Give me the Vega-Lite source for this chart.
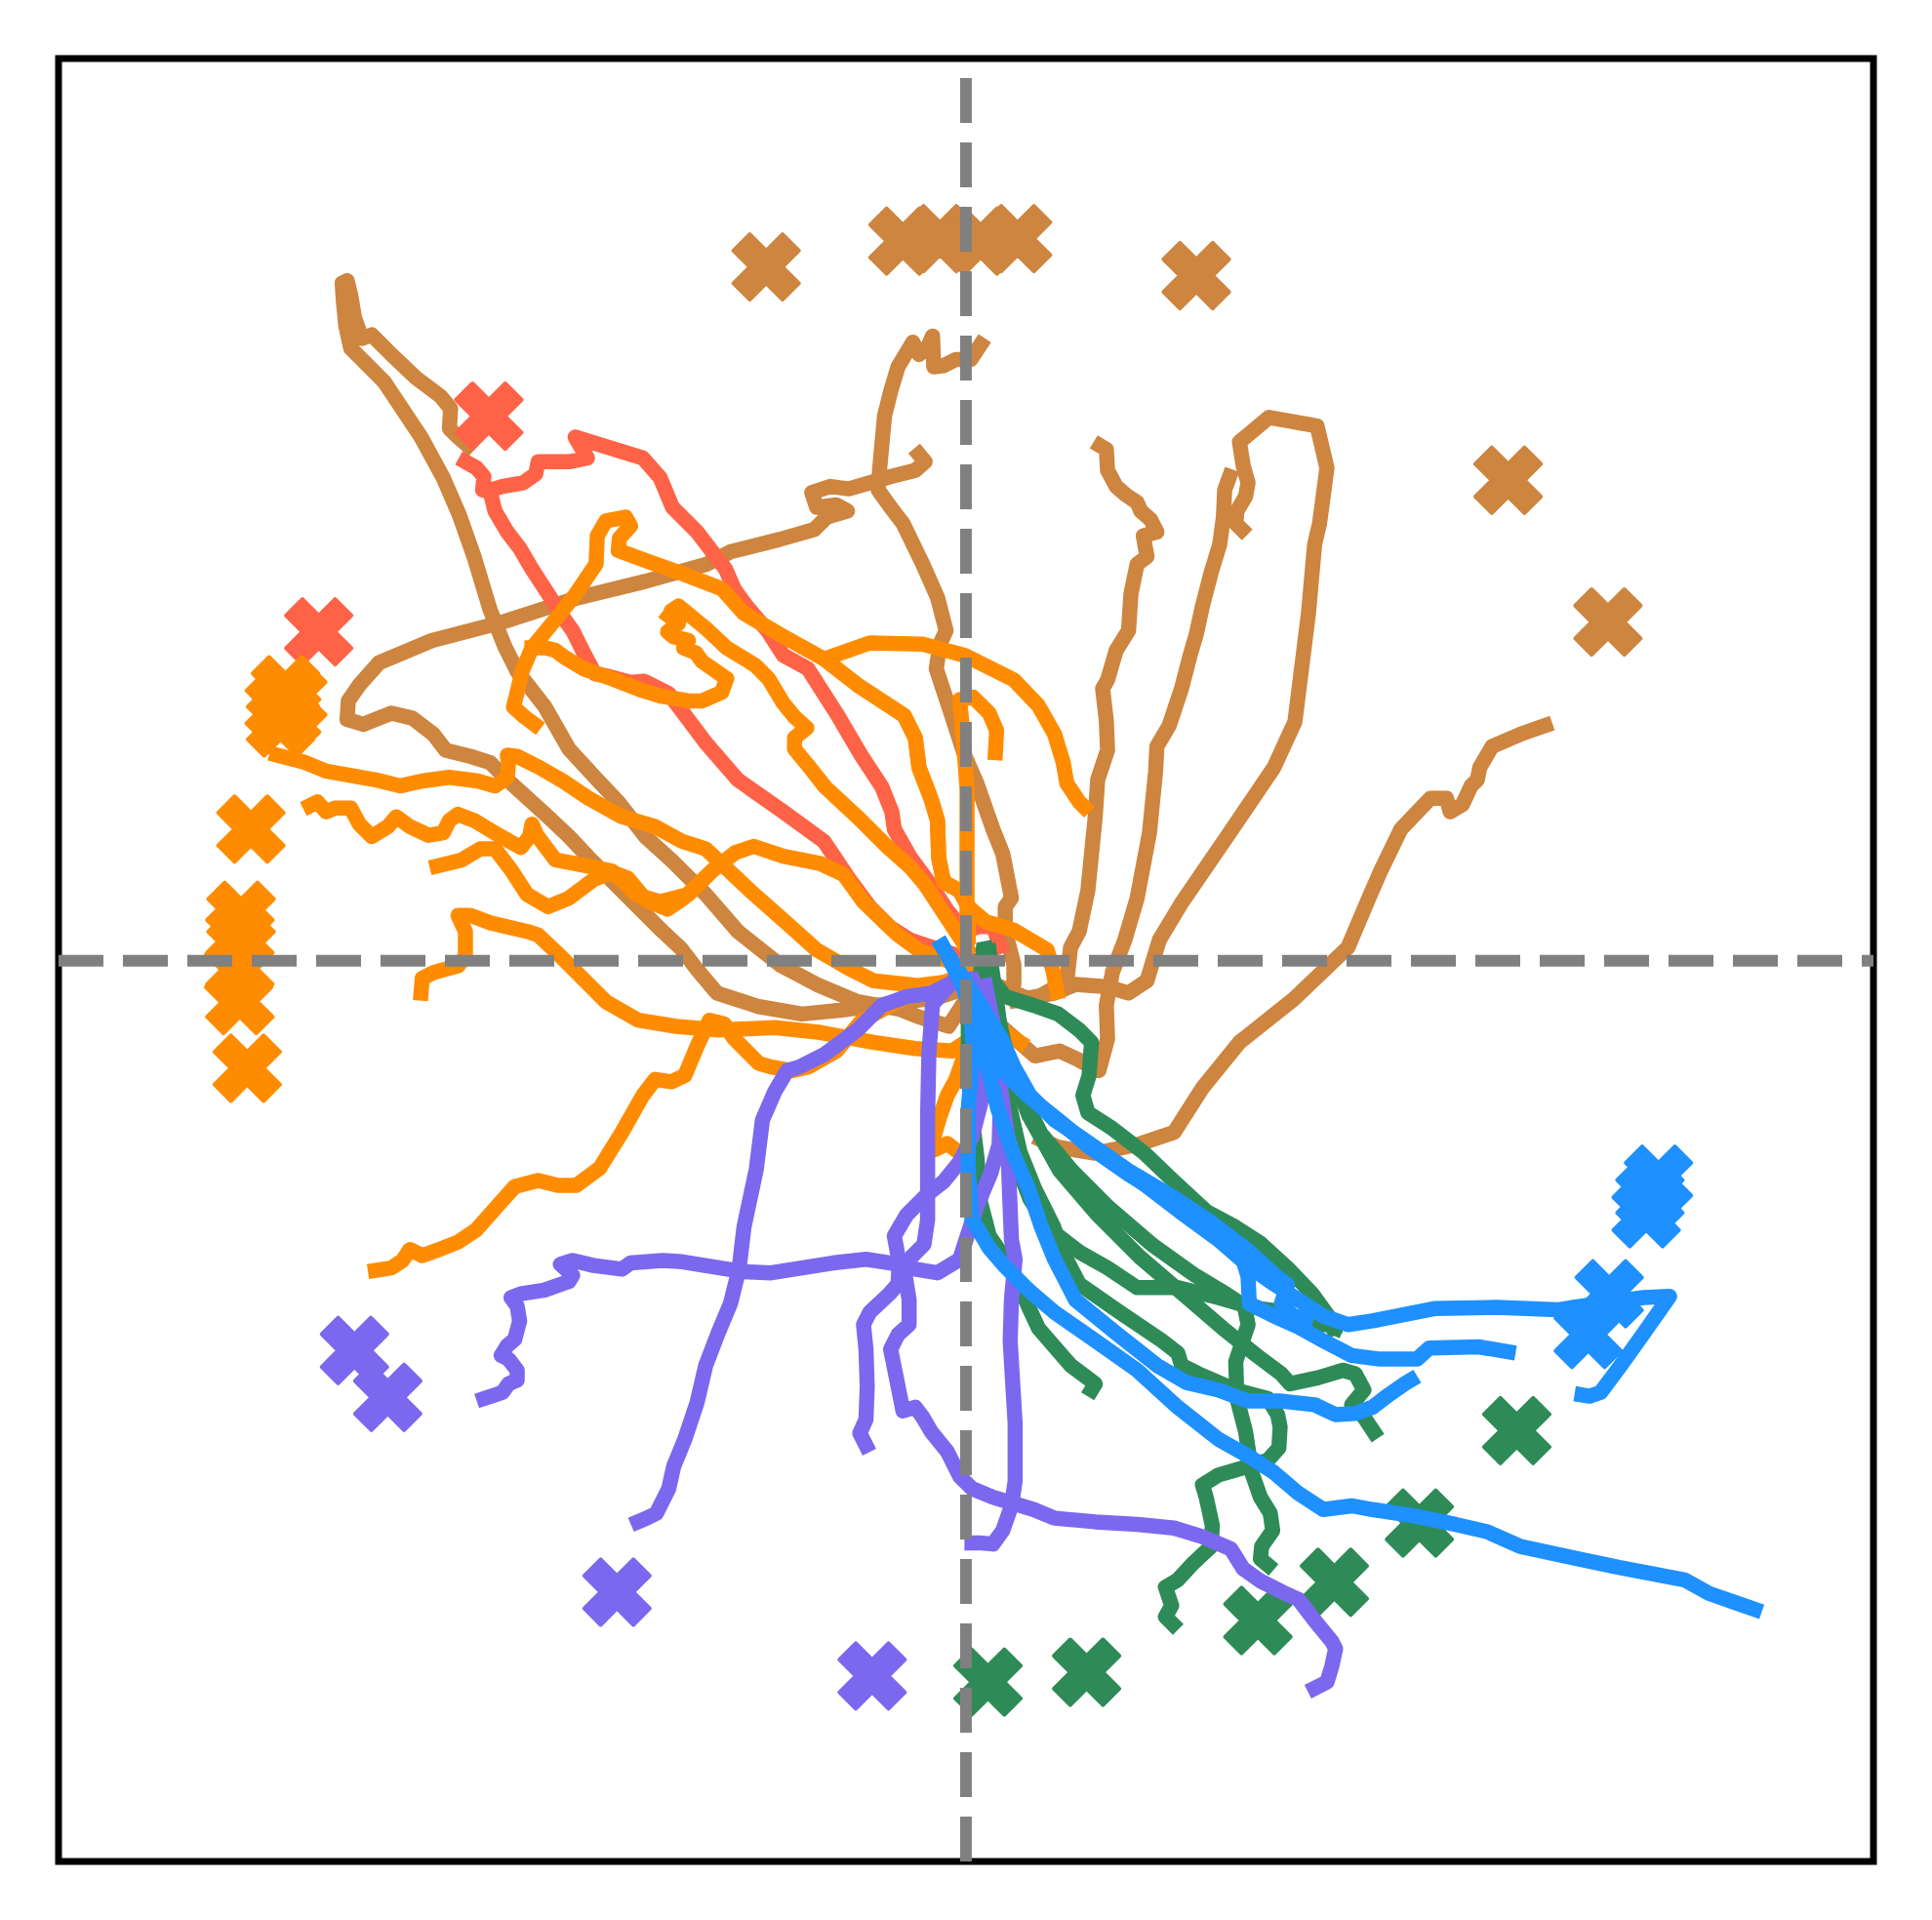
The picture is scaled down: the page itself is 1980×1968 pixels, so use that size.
{
"$schema":"https://vega.github.io/schema/vega-lite/v6.json",
"width":1860,"height":1848,
"autosize":{"type":"none"},
"padding":{"left":60,"top":60,"right":60,"bottom":60},
"background":"white",
"config":{"view":{"stroke":"black","strokeWidth":7}},
"datasets":{
"paths":[
{"i":"b1","g":"A","x":790,"y":802},{"i":"b1","g":"A","x":770,"y":833},{"i":"b1","g":"A","x":745,"y":825},{"i":"b1","g":"A","x":730,"y":819},{"i":"b1","g":"A","x":696,"y":813},{"i":"b1","g":"A","x":663,"y":799},{"i":"b1","g":"A","x":633,"y":783},{"i":"b1","g":"A","x":599,"y":756},{"i":"b1","g":"A","x":573,"y":726},{"i":"b1","g":"A","x":546,"y":699},{"i":"b1","g":"A","x":524,"y":679},{"i":"b1","g":"A","x":502,"y":651},{"i":"b1","g":"A","x":485,"y":633},{"i":"b1","g":"A","x":462,"y":608},{"i":"b1","g":"A","x":442,"y":573},{"i":"b1","g":"A","x":420,"y":545},{"i":"b1","g":"A","x":410,"y":525},{"i":"b1","g":"A","x":398,"y":495},{"i":"b1","g":"A","x":385,"y":452},{"i":"b1","g":"A","x":373,"y":418},{"i":"b1","g":"A","x":360,"y":388},{"i":"b1","g":"A","x":342,"y":355},{"i":"b1","g":"A","x":312,"y":310},{"i":"b1","g":"A","x":285,"y":283},{"i":"b1","g":"A","x":281,"y":265},{"i":"b1","g":"A","x":279,"y":245},{"i":"b1","g":"A","x":278,"y":230},{"i":"b1","g":"A","x":282,"y":228},{"i":"b1","g":"A","x":285,"y":240},{"i":"b1","g":"A","x":288,"y":258},{"i":"b1","g":"A","x":294,"y":275},{"i":"b1","g":"A","x":302,"y":272},{"i":"b1","g":"A","x":318,"y":288},{"i":"b1","g":"A","x":338,"y":307},{"i":"b1","g":"A","x":358,"y":322},{"i":"b1","g":"A","x":366,"y":332},{"i":"b1","g":"A","x":365,"y":348},{"i":"b1","g":"A","x":372,"y":355},{"i":"b1","g":"A","x":380,"y":362},
{"i":"b2","g":"A","x":790,"y":800},{"i":"b2","g":"A","x":760,"y":810},{"i":"b2","g":"A","x":720,"y":815},{"i":"b2","g":"A","x":682,"y":820},{"i":"b2","g":"A","x":651,"y":823},{"i":"b2","g":"A","x":616,"y":817},{"i":"b2","g":"A","x":582,"y":806},{"i":"b2","g":"A","x":566,"y":787},{"i":"b2","g":"A","x":553,"y":770},{"i":"b2","g":"A","x":538,"y":756},{"i":"b2","g":"A","x":518,"y":736},{"i":"b2","g":"A","x":498,"y":716},{"i":"b2","g":"A","x":478,"y":696},{"i":"b2","g":"A","x":462,"y":679},{"i":"b2","g":"A","x":445,"y":663},{"i":"b2","g":"A","x":412,"y":633},{"i":"b2","g":"A","x":398,"y":619},{"i":"b2","g":"A","x":382,"y":614},{"i":"b2","g":"A","x":362,"y":609},{"i":"b2","g":"A","x":352,"y":596},{"i":"b2","g":"A","x":335,"y":583},{"i":"b2","g":"A","x":318,"y":579},{"i":"b2","g":"A","x":295,"y":588},{"i":"b2","g":"A","x":282,"y":584},{"i":"b2","g":"A","x":283,"y":569},{"i":"b2","g":"A","x":292,"y":556},{"i":"b2","g":"A","x":308,"y":538},{"i":"b2","g":"A","x":351,"y":520},{"i":"b2","g":"A","x":405,"y":506},{"i":"b2","g":"A","x":467,"y":486},{"i":"b2","g":"A","x":524,"y":472},{"i":"b2","g":"A","x":574,"y":458},{"i":"b2","g":"A","x":593,"y":448},{"i":"b2","g":"A","x":633,"y":438},{"i":"b2","g":"A","x":661,"y":430},{"i":"b2","g":"A","x":671,"y":420},{"i":"b2","g":"A","x":688,"y":415},{"i":"b2","g":"A","x":679,"y":410},{"i":"b2","g":"A","x":663,"y":412},{"i":"b2","g":"A","x":659,"y":400},{"i":"b2","g":"A","x":674,"y":395},{"i":"b2","g":"A","x":689,"y":397},{"i":"b2","g":"A","x":703,"y":393},{"i":"b2","g":"A","x":723,"y":387},{"i":"b2","g":"A","x":743,"y":382},{"i":"b2","g":"A","x":751,"y":375},{"i":"b2","g":"A","x":746,"y":369},
{"i":"b3","g":"A","x":799,"y":799},{"i":"b3","g":"A","x":813,"y":808},{"i":"b3","g":"A","x":823,"y":799},{"i":"b3","g":"A","x":823,"y":783},{"i":"b3","g":"A","x":816,"y":756},{"i":"b3","g":"A","x":816,"y":736},{"i":"b3","g":"A","x":821,"y":729},{"i":"b3","g":"A","x":814,"y":693},{"i":"b3","g":"A","x":806,"y":673},{"i":"b3","g":"A","x":793,"y":636},{"i":"b3","g":"A","x":783,"y":613},{"i":"b3","g":"A","x":771,"y":576},{"i":"b3","g":"A","x":760,"y":543},{"i":"b3","g":"A","x":763,"y":523},{"i":"b3","g":"A","x":768,"y":512},{"i":"b3","g":"A","x":761,"y":485},{"i":"b3","g":"A","x":749,"y":458},{"i":"b3","g":"A","x":733,"y":425},{"i":"b3","g":"A","x":723,"y":412},{"i":"b3","g":"A","x":713,"y":398},{"i":"b3","g":"A","x":714,"y":382},{"i":"b3","g":"A","x":718,"y":338},{"i":"b3","g":"A","x":723,"y":318},{"i":"b3","g":"A","x":729,"y":298},{"i":"b3","g":"A","x":741,"y":278},{"i":"b3","g":"A","x":746,"y":288},{"i":"b3","g":"A","x":753,"y":282},{"i":"b3","g":"A","x":757,"y":273},{"i":"b3","g":"A","x":758,"y":298},{"i":"b3","g":"A","x":766,"y":297},{"i":"b3","g":"A","x":776,"y":292},{"i":"b3","g":"A","x":788,"y":292},{"i":"b3","g":"A","x":796,"y":280},
{"i":"b4","g":"A","x":810,"y":800},{"i":"b4","g":"A","x":838,"y":812},{"i":"b4","g":"A","x":866,"y":796},{"i":"b4","g":"A","x":869,"y":769},{"i":"b4","g":"A","x":876,"y":756},{"i":"b4","g":"A","x":883,"y":723},{"i":"b4","g":"A","x":889,"y":663},{"i":"b4","g":"A","x":891,"y":633},{"i":"b4","g":"A","x":899,"y":609},{"i":"b4","g":"A","x":898,"y":585},{"i":"b4","g":"A","x":895,"y":559},{"i":"b4","g":"A","x":899,"y":552},{"i":"b4","g":"A","x":906,"y":528},{"i":"b4","g":"A","x":916,"y":512},{"i":"b4","g":"A","x":918,"y":482},{"i":"b4","g":"A","x":923,"y":458},{"i":"b4","g":"A","x":931,"y":452},{"i":"b4","g":"A","x":928,"y":435},{"i":"b4","g":"A","x":939,"y":432},{"i":"b4","g":"A","x":934,"y":422},{"i":"b4","g":"A","x":926,"y":415},{"i":"b4","g":"A","x":923,"y":408},{"i":"b4","g":"A","x":914,"y":402},{"i":"b4","g":"A","x":906,"y":395},{"i":"b4","g":"A","x":899,"y":382},{"i":"b4","g":"A","x":898,"y":365},{"i":"b4","g":"A","x":893,"y":362},
{"i":"b5","g":"A","x":815,"y":835},{"i":"b5","g":"A","x":840,"y":857},{"i":"b5","g":"A","x":860,"y":853},{"i":"b5","g":"A","x":875,"y":860},{"i":"b5","g":"A","x":892,"y":869},{"i":"b5","g":"A","x":899,"y":843},{"i":"b5","g":"A","x":898,"y":816},{"i":"b5","g":"A","x":903,"y":789},{"i":"b5","g":"A","x":913,"y":763},{"i":"b5","g":"A","x":923,"y":729},{"i":"b5","g":"A","x":933,"y":676},{"i":"b5","g":"A","x":938,"y":626},{"i":"b5","g":"A","x":939,"y":606},{"i":"b5","g":"A","x":949,"y":589},{"i":"b5","g":"A","x":959,"y":559},{"i":"b5","g":"A","x":966,"y":532},{"i":"b5","g":"A","x":971,"y":515},{"i":"b5","g":"A","x":976,"y":492},{"i":"b5","g":"A","x":983,"y":465},{"i":"b5","g":"A","x":990,"y":442},{"i":"b5","g":"A","x":993,"y":420},{"i":"b5","g":"A","x":994,"y":398},{"i":"b5","g":"A","x":998,"y":387},
{"i":"b6","g":"A","x":825,"y":812},{"i":"b6","g":"A","x":856,"y":806},{"i":"b6","g":"A","x":873,"y":799},{"i":"b6","g":"A","x":899,"y":801},{"i":"b6","g":"A","x":916,"y":806},{"i":"b6","g":"A","x":931,"y":796},{"i":"b6","g":"A","x":941,"y":763},{"i":"b6","g":"A","x":959,"y":733},{"i":"b6","g":"A","x":996,"y":679},{"i":"b6","g":"A","x":1034,"y":623},{"i":"b6","g":"A","x":1045,"y":599},{"i":"b6","g":"A","x":1051,"y":586},{"i":"b6","g":"A","x":1055,"y":554},{"i":"b6","g":"A","x":1062,"y":498},{"i":"b6","g":"A","x":1067,"y":442},{"i":"b6","g":"A","x":1071,"y":425},{"i":"b6","g":"A","x":1077,"y":380},{"i":"b6","g":"A","x":1069,"y":346},{"i":"b6","g":"A","x":1030,"y":339},{"i":"b6","g":"A","x":1006,"y":359},{"i":"b6","g":"A","x":1009,"y":378},{"i":"b6","g":"A","x":1013,"y":392},{"i":"b6","g":"A","x":1011,"y":403},{"i":"b6","g":"A","x":1004,"y":415},{"i":"b6","g":"A","x":1003,"y":425},{"i":"b6","g":"A","x":1008,"y":430},
{"i":"b7","g":"A","x":845,"y":925},{"i":"b7","g":"A","x":859,"y":931},{"i":"b7","g":"A","x":889,"y":936},{"i":"b7","g":"A","x":923,"y":929},{"i":"b7","g":"A","x":953,"y":919},{"i":"b7","g":"A","x":976,"y":883},{"i":"b7","g":"A","x":1006,"y":846},{"i":"b7","g":"A","x":1050,"y":811},{"i":"b7","g":"A","x":1094,"y":769},{"i":"b7","g":"A","x":1111,"y":729},{"i":"b7","g":"A","x":1121,"y":706},{"i":"b7","g":"A","x":1137,"y":673},{"i":"b7","g":"A","x":1161,"y":648},{"i":"b7","g":"A","x":1174,"y":648},{"i":"b7","g":"A","x":1177,"y":659},{"i":"b7","g":"A","x":1187,"y":653},{"i":"b7","g":"A","x":1194,"y":638},{"i":"b7","g":"A","x":1199,"y":633},{"i":"b7","g":"A","x":1201,"y":623},{"i":"b7","g":"A","x":1211,"y":606},{"i":"b7","g":"A","x":1234,"y":596},{"i":"b7","g":"A","x":1254,"y":589},
{"i":"t1","g":"B","x":785,"y":778},{"i":"t1","g":"B","x":760,"y":770},{"i":"t1","g":"B","x":739,"y":763},{"i":"t1","g":"B","x":723,"y":753},{"i":"t1","g":"B","x":706,"y":736},{"i":"t1","g":"B","x":689,"y":713},{"i":"t1","g":"B","x":669,"y":683},{"i":"t1","g":"B","x":636,"y":659},{"i":"t1","g":"B","x":599,"y":633},{"i":"t1","g":"B","x":573,"y":603},{"i":"t1","g":"B","x":543,"y":563},{"i":"t1","g":"B","x":523,"y":553},{"i":"t1","g":"B","x":512,"y":554},{"i":"t1","g":"B","x":494,"y":549},{"i":"t1","g":"B","x":483,"y":547},{"i":"t1","g":"B","x":475,"y":532},{"i":"t1","g":"B","x":465,"y":512},{"i":"t1","g":"B","x":455,"y":498},{"i":"t1","g":"B","x":445,"y":482},{"i":"t1","g":"B","x":432,"y":462},{"i":"t1","g":"B","x":422,"y":445},{"i":"t1","g":"B","x":412,"y":432},{"i":"t1","g":"B","x":402,"y":415},{"i":"t1","g":"B","x":398,"y":399},{"i":"t1","g":"B","x":392,"y":398},{"i":"t1","g":"B","x":393,"y":387},{"i":"t1","g":"B","x":387,"y":380},{"i":"t1","g":"B","x":378,"y":375},
{"i":"t2","g":"B","x":812,"y":768},{"i":"t2","g":"B","x":806,"y":752},{"i":"t2","g":"B","x":795,"y":752},{"i":"t2","g":"B","x":783,"y":756},{"i":"t2","g":"B","x":769,"y":739},{"i":"t2","g":"B","x":756,"y":719},{"i":"t2","g":"B","x":739,"y":696},{"i":"t2","g":"B","x":726,"y":673},{"i":"t2","g":"B","x":724,"y":659},{"i":"t2","g":"B","x":716,"y":639},{"i":"t2","g":"B","x":699,"y":613},{"i":"t2","g":"B","x":679,"y":579},{"i":"t2","g":"B","x":656,"y":543},{"i":"t2","g":"B","x":636,"y":532},{"i":"t2","g":"B","x":623,"y":512},{"i":"t2","g":"B","x":606,"y":492},{"i":"t2","g":"B","x":596,"y":478},{"i":"t2","g":"B","x":589,"y":462},{"i":"t2","g":"B","x":566,"y":432},{"i":"t2","g":"B","x":546,"y":412},{"i":"t2","g":"B","x":536,"y":388},{"i":"t2","g":"B","x":522,"y":372},{"i":"t2","g":"B","x":467,"y":355},{"i":"t2","g":"B","x":477,"y":372},{"i":"t2","g":"B","x":462,"y":375},{"i":"t2","g":"B","x":437,"y":375},{"i":"t2","g":"B","x":435,"y":385},{"i":"t2","g":"B","x":425,"y":392},{"i":"t2","g":"B","x":408,"y":395},{"i":"t2","g":"B","x":398,"y":398},
{"i":"o1","g":"C","x":785,"y":790},{"i":"o1","g":"C","x":760,"y":800},{"i":"o1","g":"C","x":730,"y":812},{"i":"o1","g":"C","x":699,"y":829},{"i":"o1","g":"C","x":679,"y":853},{"i":"o1","g":"C","x":656,"y":866},{"i":"o1","g":"C","x":643,"y":869},{"i":"o1","g":"C","x":626,"y":866},{"i":"o1","g":"C","x":616,"y":863},{"i":"o1","g":"C","x":596,"y":843},{"i":"o1","g":"C","x":588,"y":831},{"i":"o1","g":"C","x":576,"y":828},{"i":"o1","g":"C","x":566,"y":849},{"i":"o1","g":"C","x":556,"y":873},{"i":"o1","g":"C","x":545,"y":878},{"i":"o1","g":"C","x":532,"y":876},{"i":"o1","g":"C","x":522,"y":889},{"i":"o1","g":"C","x":505,"y":919},{"i":"o1","g":"C","x":487,"y":948},{"i":"o1","g":"C","x":468,"y":962},{"i":"o1","g":"C","x":453,"y":962},{"i":"o1","g":"C","x":437,"y":958},{"i":"o1","g":"C","x":418,"y":963},{"i":"o1","g":"C","x":402,"y":981},{"i":"o1","g":"C","x":387,"y":998},{"i":"o1","g":"C","x":372,"y":1008},{"i":"o1","g":"C","x":357,"y":1014},{"i":"o1","g":"C","x":343,"y":1019},{"i":"o1","g":"C","x":333,"y":1014},{"i":"o1","g":"C","x":327,"y":1023},{"i":"o1","g":"C","x":318,"y":1029},{"i":"o1","g":"C","x":305,"y":1031},
{"i":"o2","g":"C","x":785,"y":845},{"i":"o2","g":"C","x":773,"y":853},{"i":"o2","g":"C","x":743,"y":851},{"i":"o2","g":"C","x":709,"y":846},{"i":"o2","g":"C","x":666,"y":838},{"i":"o2","g":"C","x":629,"y":834},{"i":"o2","g":"C","x":583,"y":836},{"i":"o2","g":"C","x":549,"y":833},{"i":"o2","g":"C","x":518,"y":828},{"i":"o2","g":"C","x":492,"y":813},{"i":"o2","g":"C","x":455,"y":776},{"i":"o2","g":"C","x":437,"y":759},{"i":"o2","g":"C","x":428,"y":756},{"i":"o2","g":"C","x":398,"y":749},{"i":"o2","g":"C","x":382,"y":743},{"i":"o2","g":"C","x":372,"y":743},{"i":"o2","g":"C","x":378,"y":756},{"i":"o2","g":"C","x":378,"y":776},{"i":"o2","g":"C","x":372,"y":784},{"i":"o2","g":"C","x":353,"y":789},{"i":"o2","g":"C","x":343,"y":794},{"i":"o2","g":"C","x":342,"y":806},
{"i":"o3","g":"C","x":785,"y":785},{"i":"o3","g":"C","x":747,"y":772},{"i":"o3","g":"C","x":728,"y":758},{"i":"o3","g":"C","x":701,"y":732},{"i":"o3","g":"C","x":685,"y":710},{"i":"o3","g":"C","x":666,"y":701},{"i":"o3","g":"C","x":636,"y":695},{"i":"o3","g":"C","x":612,"y":687},{"i":"o3","g":"C","x":597,"y":692},{"i":"o3","g":"C","x":578,"y":707},{"i":"o3","g":"C","x":559,"y":726},{"i":"o3","g":"C","x":536,"y":732},{"i":"o3","g":"C","x":516,"y":726},{"i":"o3","g":"C","x":497,"y":707},{"i":"o3","g":"C","x":467,"y":701},{"i":"o3","g":"C","x":451,"y":698},{"i":"o3","g":"C","x":436,"y":678},{"i":"o3","g":"C","x":432,"y":669},{"i":"o3","g":"C","x":430,"y":679},{"i":"o3","g":"C","x":423,"y":688},{"i":"o3","g":"C","x":405,"y":678},{"i":"o3","g":"C","x":385,"y":666},{"i":"o3","g":"C","x":372,"y":661},{"i":"o3","g":"C","x":365,"y":666},{"i":"o3","g":"C","x":360,"y":676},{"i":"o3","g":"C","x":348,"y":678},{"i":"o3","g":"C","x":333,"y":671},{"i":"o3","g":"C","x":322,"y":663},{"i":"o3","g":"C","x":315,"y":671},{"i":"o3","g":"C","x":302,"y":679},{"i":"o3","g":"C","x":292,"y":669},{"i":"o3","g":"C","x":285,"y":656},{"i":"o3","g":"C","x":272,"y":656},{"i":"o3","g":"C","x":265,"y":659},{"i":"o3","g":"C","x":258,"y":651},{"i":"o3","g":"C","x":252,"y":654},
{"i":"o4","g":"C","x":785,"y":795},{"i":"o4","g":"C","x":745,"y":800},{"i":"o4","g":"C","x":709,"y":796},{"i":"o4","g":"C","x":689,"y":786},{"i":"o4","g":"C","x":663,"y":771},{"i":"o4","g":"C","x":643,"y":753},{"i":"o4","g":"C","x":609,"y":723},{"i":"o4","g":"C","x":573,"y":689},{"i":"o4","g":"C","x":554,"y":683},{"i":"o4","g":"C","x":532,"y":671},{"i":"o4","g":"C","x":505,"y":663},{"i":"o4","g":"C","x":478,"y":648},{"i":"o4","g":"C","x":457,"y":634},{"i":"o4","g":"C","x":438,"y":623},{"i":"o4","g":"C","x":420,"y":614},{"i":"o4","g":"C","x":412,"y":613},{"i":"o4","g":"C","x":413,"y":619},{"i":"o4","g":"C","x":412,"y":631},{"i":"o4","g":"C","x":402,"y":638},{"i":"o4","g":"C","x":388,"y":634},{"i":"o4","g":"C","x":365,"y":631},{"i":"o4","g":"C","x":343,"y":634},{"i":"o4","g":"C","x":325,"y":638},{"i":"o4","g":"C","x":305,"y":633},{"i":"o4","g":"C","x":265,"y":626},{"i":"o4","g":"C","x":248,"y":619},{"i":"o4","g":"C","x":225,"y":613},
{"i":"o5","g":"C","x":786,"y":760},{"i":"o5","g":"C","x":786,"y":736},{"i":"o5","g":"C","x":779,"y":723},{"i":"o5","g":"C","x":766,"y":716},{"i":"o5","g":"C","x":762,"y":696},{"i":"o5","g":"C","x":761,"y":666},{"i":"o5","g":"C","x":756,"y":649},{"i":"o5","g":"C","x":746,"y":623},{"i":"o5","g":"C","x":743,"y":599},{"i":"o5","g":"C","x":734,"y":581},{"i":"o5","g":"C","x":696,"y":556},{"i":"o5","g":"C","x":669,"y":535},{"i":"o5","g":"C","x":633,"y":515},{"i":"o5","g":"C","x":604,"y":498},{"i":"o5","g":"C","x":586,"y":478},{"i":"o5","g":"C","x":552,"y":465},{"i":"o5","g":"C","x":532,"y":458},{"i":"o5","g":"C","x":502,"y":447},{"i":"o5","g":"C","x":503,"y":437},{"i":"o5","g":"C","x":512,"y":427},{"i":"o5","g":"C","x":508,"y":420},{"i":"o5","g":"C","x":492,"y":423},{"i":"o5","g":"C","x":485,"y":435},{"i":"o5","g":"C","x":484,"y":458},{"i":"o5","g":"C","x":467,"y":483},{"i":"o5","g":"C","x":451,"y":503},{"i":"o5","g":"C","x":432,"y":526},{"i":"o5","g":"C","x":424,"y":545},{"i":"o5","g":"C","x":420,"y":562},{"i":"o5","g":"C","x":417,"y":574},{"i":"o5","g":"C","x":426,"y":582},{"i":"o5","g":"C","x":434,"y":588},
{"i":"o6","g":"C","x":785,"y":770},{"i":"o6","g":"C","x":751,"y":718},{"i":"o6","g":"C","x":739,"y":704},{"i":"o6","g":"C","x":720,"y":687},{"i":"o6","g":"C","x":697,"y":664},{"i":"o6","g":"C","x":670,"y":639},{"i":"o6","g":"C","x":659,"y":625},{"i":"o6","g":"C","x":645,"y":608},{"i":"o6","g":"C","x":645,"y":599},{"i":"o6","g":"C","x":655,"y":591},{"i":"o6","g":"C","x":645,"y":582},{"i":"o6","g":"C","x":636,"y":571},{"i":"o6","g":"C","x":624,"y":551},{"i":"o6","g":"C","x":613,"y":540},{"i":"o6","g":"C","x":590,"y":526},{"i":"o6","g":"C","x":574,"y":511},{"i":"o6","g":"C","x":551,"y":492},{"i":"o6","g":"C","x":545,"y":496},{"i":"o6","g":"C","x":548,"y":503},
{"i":"o7","g":"C","x":432,"y":526},{"i":"o7","g":"C","x":443,"y":526},{"i":"o7","g":"C","x":451,"y":528},{"i":"o7","g":"C","x":459,"y":534},{"i":"o7","g":"C","x":474,"y":543},{"i":"o7","g":"C","x":497,"y":551},{"i":"o7","g":"C","x":520,"y":560},{"i":"o7","g":"C","x":536,"y":565},{"i":"o7","g":"C","x":559,"y":569},{"i":"o7","g":"C","x":570,"y":569},{"i":"o7","g":"C","x":586,"y":562},{"i":"o7","g":"C","x":590,"y":551},{"i":"o7","g":"C","x":570,"y":537},{"i":"o7","g":"C","x":565,"y":530},{"i":"o7","g":"C","x":555,"y":526},{"i":"o7","g":"C","x":559,"y":520},{"i":"o7","g":"C","x":547,"y":517},{"i":"o7","g":"C","x":542,"y":513},{"i":"o7","g":"C","x":551,"y":506},{"i":"o7","g":"C","x":543,"y":500},
{"i":"o8","g":"C","x":355,"y":703},{"i":"o8","g":"C","x":375,"y":698},{"i":"o8","g":"C","x":390,"y":689},{"i":"o8","g":"C","x":402,"y":689},{"i":"o8","g":"C","x":415,"y":706},{"i":"o8","g":"C","x":428,"y":726},{"i":"o8","g":"C","x":445,"y":736},{"i":"o8","g":"C","x":462,"y":729},{"i":"o8","g":"C","x":482,"y":714},{"i":"o8","g":"C","x":497,"y":708},{"i":"o8","g":"C","x":510,"y":713},{"i":"o8","g":"C","x":525,"y":731},{"i":"o8","g":"C","x":542,"y":738},{"i":"o8","g":"C","x":555,"y":729},{"i":"o8","g":"C","x":578,"y":707},
{"i":"o9","g":"C","x":785,"y":762},{"i":"o9","g":"C","x":785,"y":700},{"i":"o9","g":"C","x":785,"y":640},{"i":"o9","g":"C","x":782,"y":600},{"i":"o9","g":"C","x":779,"y":568},{"i":"o9","g":"C","x":790,"y":566},{"i":"o9","g":"C","x":803,"y":579},{"i":"o9","g":"C","x":809,"y":593},{"i":"o9","g":"C","x":808,"y":611},
{"i":"o10","g":"C","x":858,"y":805},{"i":"o10","g":"C","x":855,"y":789},{"i":"o10","g":"C","x":850,"y":771},{"i":"o10","g":"C","x":823,"y":755},{"i":"o10","g":"C","x":800,"y":748},{"i":"o10","g":"C","x":786,"y":736},{"i":"o10","g":"C","x":779,"y":723},{"i":"o10","g":"C","x":766,"y":716},{"i":"o10","g":"C","x":762,"y":696},{"i":"o10","g":"C","x":761,"y":666},{"i":"o10","g":"C","x":756,"y":649},{"i":"o10","g":"C","x":746,"y":623},{"i":"o10","g":"C","x":743,"y":599},{"i":"o10","g":"C","x":734,"y":581},{"i":"o10","g":"C","x":696,"y":556},{"i":"o10","g":"C","x":669,"y":535},{"i":"o10","g":"C","x":706,"y":522},{"i":"o10","g":"C","x":749,"y":523},{"i":"o10","g":"C","x":783,"y":532},{"i":"o10","g":"C","x":823,"y":552},{"i":"o10","g":"C","x":843,"y":573},{"i":"o10","g":"C","x":856,"y":596},{"i":"o10","g":"C","x":863,"y":619},{"i":"o10","g":"C","x":866,"y":636},{"i":"o10","g":"C","x":876,"y":651},{"i":"o10","g":"C","x":880,"y":655},
{"i":"o11","g":"C","x":828,"y":846},{"i":"o11","g":"C","x":812,"y":836},{"i":"o11","g":"C","x":796,"y":836},{"i":"o11","g":"C","x":785,"y":848},{"i":"o11","g":"C","x":783,"y":856},{"i":"o11","g":"C","x":776,"y":876},{"i":"o11","g":"C","x":769,"y":889},{"i":"o11","g":"C","x":763,"y":906},{"i":"o11","g":"C","x":758,"y":923},{"i":"o11","g":"C","x":759,"y":933},{"i":"o11","g":"C","x":769,"y":928},{"i":"o11","g":"C","x":778,"y":935},
{"i":"g1","g":"F","x":798,"y":772},{"i":"g1","g":"F","x":795,"y":800},{"i":"g1","g":"F","x":786,"y":830},{"i":"g1","g":"F","x":786,"y":873},{"i":"g1","g":"F","x":789,"y":906},{"i":"g1","g":"F","x":793,"y":939},{"i":"g1","g":"F","x":796,"y":976},{"i":"g1","g":"F","x":803,"y":1003},{"i":"g1","g":"F","x":816,"y":1022},{"i":"g1","g":"F","x":826,"y":1040},{"i":"g1","g":"F","x":836,"y":1063},{"i":"g1","g":"F","x":843,"y":1078},{"i":"g1","g":"F","x":856,"y":1093},{"i":"g1","g":"F","x":869,"y":1108},{"i":"g1","g":"F","x":881,"y":1117},{"i":"g1","g":"F","x":889,"y":1123},{"i":"g1","g":"F","x":886,"y":1128},
{"i":"g2","g":"F","x":803,"y":772},{"i":"g2","g":"F","x":810,"y":820},{"i":"g2","g":"F","x":815,"y":860},{"i":"g2","g":"F","x":820,"y":900},{"i":"g2","g":"F","x":828,"y":935},{"i":"g2","g":"F","x":840,"y":965},{"i":"g2","g":"F","x":855,"y":995},{"i":"g2","g":"F","x":862,"y":1015},{"i":"g2","g":"F","x":876,"y":1042},{"i":"g2","g":"F","x":909,"y":1065},{"i":"g2","g":"F","x":943,"y":1088},{"i":"g2","g":"F","x":956,"y":1098},{"i":"g2","g":"F","x":959,"y":1108},{"i":"g2","g":"F","x":973,"y":1115},{"i":"g2","g":"F","x":989,"y":1122},{"i":"g2","g":"F","x":1003,"y":1128},{"i":"g2","g":"F","x":1029,"y":1135},{"i":"g2","g":"F","x":1037,"y":1148},{"i":"g2","g":"F","x":1039,"y":1158},{"i":"g2","g":"F","x":1038,"y":1175},{"i":"g2","g":"F","x":1029,"y":1185},{"i":"g2","g":"F","x":1013,"y":1190},{"i":"g2","g":"F","x":989,"y":1197},{"i":"g2","g":"F","x":976,"y":1205},{"i":"g2","g":"F","x":979,"y":1215},{"i":"g2","g":"F","x":984,"y":1238},{"i":"g2","g":"F","x":983,"y":1255},{"i":"g2","g":"F","x":969,"y":1268},{"i":"g2","g":"F","x":956,"y":1282},{"i":"g2","g":"F","x":946,"y":1288},{"i":"g2","g":"F","x":951,"y":1303},{"i":"g2","g":"F","x":946,"y":1312},{"i":"g2","g":"F","x":952,"y":1318},
{"i":"g3","g":"F","x":802,"y":775},{"i":"g3","g":"F","x":808,"y":815},{"i":"g3","g":"F","x":818,"y":860},{"i":"g3","g":"F","x":835,"y":905},{"i":"g3","g":"F","x":860,"y":950},{"i":"g3","g":"F","x":890,"y":985},{"i":"g3","g":"F","x":925,"y":1020},{"i":"g3","g":"F","x":960,"y":1050},{"i":"g3","g":"F","x":995,"y":1080},{"i":"g3","g":"F","x":1020,"y":1100},{"i":"g3","g":"F","x":1040,"y":1115},{"i":"g3","g":"F","x":1047,"y":1123},{"i":"g3","g":"F","x":1070,"y":1118},{"i":"g3","g":"F","x":1090,"y":1112},{"i":"g3","g":"F","x":1100,"y":1115},{"i":"g3","g":"F","x":1107,"y":1128},{"i":"g3","g":"F","x":1097,"y":1140},{"i":"g3","g":"F","x":1107,"y":1150},{"i":"g3","g":"F","x":1115,"y":1162},
{"i":"g4","g":"F","x":800,"y":775},{"i":"g4","g":"F","x":810,"y":830},{"i":"g4","g":"F","x":825,"y":880},{"i":"g4","g":"F","x":845,"y":920},{"i":"g4","g":"F","x":870,"y":950},{"i":"g4","g":"F","x":900,"y":980},{"i":"g4","g":"F","x":935,"y":1010},{"i":"g4","g":"F","x":970,"y":1035},{"i":"g4","g":"F","x":995,"y":1050},{"i":"g4","g":"F","x":1010,"y":1060},{"i":"g4","g":"F","x":1013,"y":1075},{"i":"g4","g":"F","x":1003,"y":1105},{"i":"g4","g":"F","x":1004,"y":1135},{"i":"g4","g":"F","x":1011,"y":1162},{"i":"g4","g":"F","x":1016,"y":1195},{"i":"g4","g":"F","x":1023,"y":1215},{"i":"g4","g":"F","x":1031,"y":1228},{"i":"g4","g":"F","x":1033,"y":1242},{"i":"g4","g":"F","x":1024,"y":1255},{"i":"g4","g":"F","x":1023,"y":1265},{"i":"g4","g":"F","x":1029,"y":1270},
{"i":"g5","g":"F","x":800,"y":770},{"i":"g5","g":"F","x":805,"y":795},{"i":"g5","g":"F","x":816,"y":809},{"i":"g5","g":"F","x":839,"y":816},{"i":"g5","g":"F","x":859,"y":823},{"i":"g5","g":"F","x":876,"y":836},{"i":"g5","g":"F","x":886,"y":846},{"i":"g5","g":"F","x":884,"y":873},{"i":"g5","g":"F","x":879,"y":889},{"i":"g5","g":"F","x":883,"y":903},{"i":"g5","g":"F","x":903,"y":916},{"i":"g5","g":"F","x":929,"y":936},{"i":"g5","g":"F","x":953,"y":959},{"i":"g5","g":"F","x":979,"y":983},{"i":"g5","g":"F","x":1003,"y":996},{"i":"g5","g":"F","x":1023,"y":1009},{"i":"g5","g":"F","x":1045,"y":1029},{"i":"g5","g":"F","x":1065,"y":1050},{"i":"g5","g":"F","x":1078,"y":1068},{"i":"g5","g":"F","x":1082,"y":1078},
{"i":"g6","g":"F","x":800,"y":772},{"i":"g6","g":"F","x":812,"y":840},{"i":"g6","g":"F","x":816,"y":906},{"i":"g6","g":"F","x":823,"y":939},{"i":"g6","g":"F","x":836,"y":973},{"i":"g6","g":"F","x":846,"y":989},{"i":"g6","g":"F","x":859,"y":1003},{"i":"g6","g":"F","x":876,"y":1016},{"i":"g6","g":"F","x":899,"y":1029},{"i":"g6","g":"F","x":923,"y":1045},{"i":"g6","g":"F","x":956,"y":1045},{"i":"g6","g":"F","x":989,"y":1053},{"i":"g6","g":"F","x":1006,"y":1058},{"i":"g6","g":"F","x":1023,"y":1062},{"i":"g6","g":"F","x":1045,"y":1065},{"i":"g6","g":"F","x":1060,"y":1075},{"i":"g6","g":"F","x":1077,"y":1075},{"i":"g6","g":"F","x":1084,"y":1078},
{"i":"p1","g":"D","x":800,"y":800},{"i":"p1","g":"D","x":806,"y":830},{"i":"p1","g":"D","x":810,"y":860},{"i":"p1","g":"D","x":812,"y":895},{"i":"p1","g":"D","x":811,"y":929},{"i":"p1","g":"D","x":804,"y":953},{"i":"p1","g":"D","x":793,"y":979},{"i":"p1","g":"D","x":779,"y":1022},{"i":"p1","g":"D","x":761,"y":1033},{"i":"p1","g":"D","x":743,"y":1030},{"i":"p1","g":"D","x":723,"y":1025},{"i":"p1","g":"D","x":703,"y":1022},{"i":"p1","g":"D","x":676,"y":1025},{"i":"p1","g":"D","x":626,"y":1033},{"i":"p1","g":"D","x":603,"y":1032},{"i":"p1","g":"D","x":554,"y":1024},{"i":"p1","g":"D","x":538,"y":1023},{"i":"p1","g":"D","x":512,"y":1025},{"i":"p1","g":"D","x":505,"y":1030},{"i":"p1","g":"D","x":482,"y":1027},{"i":"p1","g":"D","x":465,"y":1023},{"i":"p1","g":"D","x":455,"y":1026},{"i":"p1","g":"D","x":465,"y":1035},{"i":"p1","g":"D","x":462,"y":1040},{"i":"p1","g":"D","x":442,"y":1047},{"i":"p1","g":"D","x":423,"y":1050},{"i":"p1","g":"D","x":415,"y":1053},{"i":"p1","g":"D","x":420,"y":1060},{"i":"p1","g":"D","x":422,"y":1072},{"i":"p1","g":"D","x":418,"y":1087},{"i":"p1","g":"D","x":412,"y":1092},{"i":"p1","g":"D","x":407,"y":1100},{"i":"p1","g":"D","x":413,"y":1103},{"i":"p1","g":"D","x":420,"y":1112},{"i":"p1","g":"D","x":420,"y":1120},{"i":"p1","g":"D","x":413,"y":1123},{"i":"p1","g":"D","x":408,"y":1130},{"i":"p1","g":"D","x":393,"y":1135},
{"i":"p2","g":"D","x":770,"y":799},{"i":"p2","g":"D","x":756,"y":806},{"i":"p2","g":"D","x":736,"y":809},{"i":"p2","g":"D","x":716,"y":816},{"i":"p2","g":"D","x":696,"y":836},{"i":"p2","g":"D","x":669,"y":856},{"i":"p2","g":"D","x":649,"y":866},{"i":"p2","g":"D","x":639,"y":869},{"i":"p2","g":"D","x":629,"y":886},{"i":"p2","g":"D","x":619,"y":909},{"i":"p2","g":"D","x":614,"y":949},{"i":"p2","g":"D","x":604,"y":996},{"i":"p2","g":"D","x":600,"y":1030},{"i":"p2","g":"D","x":593,"y":1058},{"i":"p2","g":"D","x":583,"y":1082},{"i":"p2","g":"D","x":573,"y":1108},{"i":"p2","g":"D","x":566,"y":1138},{"i":"p2","g":"D","x":556,"y":1168},{"i":"p2","g":"D","x":547,"y":1190},{"i":"p2","g":"D","x":543,"y":1208},{"i":"p2","g":"D","x":533,"y":1228},{"i":"p2","g":"D","x":525,"y":1232},{"i":"p2","g":"D","x":518,"y":1235},
{"i":"p3","g":"D","x":785,"y":795},{"i":"p3","g":"D","x":789,"y":816},{"i":"p3","g":"D","x":796,"y":843},{"i":"p3","g":"D","x":799,"y":873},{"i":"p3","g":"D","x":796,"y":896},{"i":"p3","g":"D","x":789,"y":923},{"i":"p3","g":"D","x":779,"y":943},{"i":"p3","g":"D","x":766,"y":959},{"i":"p3","g":"D","x":753,"y":969},{"i":"p3","g":"D","x":736,"y":986},{"i":"p3","g":"D","x":726,"y":1003},{"i":"p3","g":"D","x":730,"y":1025},{"i":"p3","g":"D","x":729,"y":1042},{"i":"p3","g":"D","x":722,"y":1050},{"i":"p3","g":"D","x":706,"y":1065},{"i":"p3","g":"D","x":701,"y":1075},{"i":"p3","g":"D","x":703,"y":1095},{"i":"p3","g":"D","x":704,"y":1125},{"i":"p3","g":"D","x":703,"y":1152},{"i":"p3","g":"D","x":698,"y":1163},{"i":"p3","g":"D","x":703,"y":1173},
{"i":"p4","g":"D","x":790,"y":796},{"i":"p4","g":"D","x":801,"y":823},{"i":"p4","g":"D","x":808,"y":856},{"i":"p4","g":"D","x":813,"y":889},{"i":"p4","g":"D","x":818,"y":923},{"i":"p4","g":"D","x":819,"y":956},{"i":"p4","g":"D","x":821,"y":1006},{"i":"p4","g":"D","x":824,"y":1022},{"i":"p4","g":"D","x":821,"y":1055},{"i":"p4","g":"D","x":820,"y":1088},{"i":"p4","g":"D","x":822,"y":1122},{"i":"p4","g":"D","x":824,"y":1155},{"i":"p4","g":"D","x":824,"y":1202},{"i":"p4","g":"D","x":821,"y":1222},{"i":"p4","g":"D","x":814,"y":1242},{"i":"p4","g":"D","x":806,"y":1253},{"i":"p4","g":"D","x":795,"y":1252},{"i":"p4","g":"D","x":789,"y":1252},
{"i":"p5","g":"D","x":775,"y":795},{"i":"p5","g":"D","x":757,"y":815},{"i":"p5","g":"D","x":754,"y":856},{"i":"p5","g":"D","x":753,"y":906},{"i":"p5","g":"D","x":753,"y":956},{"i":"p5","g":"D","x":753,"y":990},{"i":"p5","g":"D","x":750,"y":1010},{"i":"p5","g":"D","x":740,"y":1020},{"i":"p5","g":"D","x":734,"y":1030},{"i":"p5","g":"D","x":738,"y":1055},{"i":"p5","g":"D","x":738,"y":1075},{"i":"p5","g":"D","x":729,"y":1083},{"i":"p5","g":"D","x":723,"y":1095},{"i":"p5","g":"D","x":727,"y":1115},{"i":"p5","g":"D","x":731,"y":1135},{"i":"p5","g":"D","x":733,"y":1145},{"i":"p5","g":"D","x":743,"y":1142},{"i":"p5","g":"D","x":749,"y":1150},{"i":"p5","g":"D","x":756,"y":1162},{"i":"p5","g":"D","x":769,"y":1178},{"i":"p5","g":"D","x":779,"y":1198},{"i":"p5","g":"D","x":789,"y":1208},{"i":"p5","g":"D","x":806,"y":1215},{"i":"p5","g":"D","x":839,"y":1225},{"i":"p5","g":"D","x":856,"y":1232},{"i":"p5","g":"D","x":889,"y":1235},{"i":"p5","g":"D","x":923,"y":1237},{"i":"p5","g":"D","x":953,"y":1240},{"i":"p5","g":"D","x":976,"y":1247},{"i":"p5","g":"D","x":999,"y":1257},{"i":"p5","g":"D","x":1009,"y":1273},{"i":"p5","g":"D","x":1023,"y":1283},{"i":"p5","g":"D","x":1041,"y":1292},{"i":"p5","g":"D","x":1054,"y":1298},{"i":"p5","g":"D","x":1067,"y":1315},{"i":"p5","g":"D","x":1081,"y":1332},{"i":"p5","g":"D","x":1084,"y":1338},{"i":"p5","g":"D","x":1081,"y":1352},{"i":"p5","g":"D","x":1077,"y":1365},{"i":"p5","g":"D","x":1067,"y":1370},
{"i":"e1","g":"E","x":765,"y":768},{"i":"e1","g":"E","x":778,"y":790},{"i":"e1","g":"E","x":788,"y":820},{"i":"e1","g":"E","x":790,"y":850},{"i":"e1","g":"E","x":786,"y":900},{"i":"e1","g":"E","x":786,"y":949},{"i":"e1","g":"E","x":789,"y":989},{"i":"e1","g":"E","x":803,"y":1013},{"i":"e1","g":"E","x":816,"y":1028},{"i":"e1","g":"E","x":836,"y":1048},{"i":"e1","g":"E","x":856,"y":1065},{"i":"e1","g":"E","x":889,"y":1088},{"i":"e1","g":"E","x":923,"y":1112},{"i":"e1","g":"E","x":956,"y":1142},{"i":"e1","g":"E","x":989,"y":1168},{"i":"e1","g":"E","x":1014,"y":1182},{"i":"e1","g":"E","x":1034,"y":1195},{"i":"e1","g":"E","x":1054,"y":1212},{"i":"e1","g":"E","x":1074,"y":1225},{"i":"e1","g":"E","x":1097,"y":1222},{"i":"e1","g":"E","x":1114,"y":1225},{"i":"e1","g":"E","x":1147,"y":1230},{"i":"e1","g":"E","x":1181,"y":1237},{"i":"e1","g":"E","x":1207,"y":1243},{"i":"e1","g":"E","x":1234,"y":1255},{"i":"e1","g":"E","x":1281,"y":1265},{"i":"e1","g":"E","x":1314,"y":1272},{"i":"e1","g":"E","x":1367,"y":1282},{"i":"e1","g":"E","x":1387,"y":1293},{"i":"e1","g":"E","x":1424,"y":1306},
{"i":"e2","g":"E","x":765,"y":768},{"i":"e2","g":"E","x":780,"y":795},{"i":"e2","g":"E","x":800,"y":840},{"i":"e2","g":"E","x":815,"y":870},{"i":"e2","g":"E","x":835,"y":890},{"i":"e2","g":"E","x":860,"y":910},{"i":"e2","g":"E","x":883,"y":930},{"i":"e2","g":"E","x":916,"y":953},{"i":"e2","g":"E","x":953,"y":976},{"i":"e2","g":"E","x":983,"y":996},{"i":"e2","g":"E","x":1006,"y":1013},{"i":"e2","g":"E","x":1013,"y":1036},{"i":"e2","g":"E","x":1014,"y":1058},{"i":"e2","g":"E","x":1034,"y":1068},{"i":"e2","g":"E","x":1054,"y":1077},{"i":"e2","g":"E","x":1074,"y":1088},{"i":"e2","g":"E","x":1097,"y":1100},{"i":"e2","g":"E","x":1120,"y":1103},{"i":"e2","g":"E","x":1150,"y":1103},{"i":"e2","g":"E","x":1160,"y":1094},{"i":"e2","g":"E","x":1200,"y":1093},{"i":"e2","g":"E","x":1224,"y":1097},
{"i":"e3","g":"E","x":765,"y":768},{"i":"e3","g":"E","x":782,"y":800},{"i":"e3","g":"E","x":800,"y":830},{"i":"e3","g":"E","x":812,"y":860},{"i":"e3","g":"E","x":825,"y":880},{"i":"e3","g":"E","x":845,"y":898},{"i":"e3","g":"E","x":870,"y":918},{"i":"e3","g":"E","x":900,"y":940},{"i":"e3","g":"E","x":930,"y":962},{"i":"e3","g":"E","x":960,"y":985},{"i":"e3","g":"E","x":990,"y":1007},{"i":"e3","g":"E","x":1014,"y":1028},{"i":"e3","g":"E","x":1034,"y":1042},{"i":"e3","g":"E","x":1054,"y":1055},{"i":"e3","g":"E","x":1074,"y":1068},{"i":"e3","g":"E","x":1094,"y":1075},{"i":"e3","g":"E","x":1114,"y":1072},{"i":"e3","g":"E","x":1164,"y":1062},{"i":"e3","g":"E","x":1214,"y":1061},{"i":"e3","g":"E","x":1264,"y":1063},{"i":"e3","g":"E","x":1297,"y":1058},{"i":"e3","g":"E","x":1334,"y":1053},{"i":"e3","g":"E","x":1355,"y":1052},{"i":"e3","g":"E","x":1334,"y":1082},{"i":"e3","g":"E","x":1314,"y":1110},{"i":"e3","g":"E","x":1299,"y":1130},{"i":"e3","g":"E","x":1290,"y":1133},{"i":"e3","g":"E","x":1284,"y":1132},
{"i":"e4","g":"E","x":765,"y":768},{"i":"e4","g":"E","x":785,"y":805},{"i":"e4","g":"E","x":792,"y":830},{"i":"e4","g":"E","x":800,"y":860},{"i":"e4","g":"E","x":810,"y":900},{"i":"e4","g":"E","x":822,"y":935},{"i":"e4","g":"E","x":835,"y":965},{"i":"e4","g":"E","x":845,"y":995},{"i":"e4","g":"E","x":856,"y":1022},{"i":"e4","g":"E","x":873,"y":1055},{"i":"e4","g":"E","x":906,"y":1082},{"i":"e4","g":"E","x":939,"y":1108},{"i":"e4","g":"E","x":963,"y":1122},{"i":"e4","g":"E","x":989,"y":1128},{"i":"e4","g":"E","x":1013,"y":1137},{"i":"e4","g":"E","x":1040,"y":1137},{"i":"e4","g":"E","x":1067,"y":1140},{"i":"e4","g":"E","x":1084,"y":1148},{"i":"e4","g":"E","x":1100,"y":1147},{"i":"e4","g":"E","x":1114,"y":1142},{"i":"e4","g":"E","x":1127,"y":1132},{"i":"e4","g":"E","x":1140,"y":1123},{"i":"e4","g":"E","x":1145,"y":1120},
{"i":"e5","g":"E","x":765,"y":768},{"i":"e5","g":"E","x":790,"y":806},{"i":"e5","g":"E","x":813,"y":843},{"i":"e5","g":"E","x":823,"y":866},{"i":"e5","g":"E","x":836,"y":889},{"i":"e5","g":"E","x":856,"y":909},{"i":"e5","g":"E","x":880,"y":925},{"i":"e5","g":"E","x":916,"y":950},{"i":"e5","g":"E","x":953,"y":972},{"i":"e5","g":"E","x":983,"y":992},{"i":"e5","g":"E","x":1013,"y":1015},{"i":"e5","g":"E","x":1035,"y":1035},{"i":"e5","g":"E","x":1045,"y":1043},{"i":"e5","g":"E","x":1040,"y":1058},{"i":"e5","g":"E","x":1050,"y":1068},{"i":"e5","g":"E","x":1060,"y":1070}
],
"goals":[
{"g":"A","x":622,"y":217},{"g":"A","x":733,"y":196},{"g":"A","x":763,"y":194},{"g":"A","x":796,"y":196},{"g":"A","x":826,"y":194},{"g":"A","x":971,"y":224},{"g":"A","x":1224,"y":390},{"g":"A","x":1305,"y":505},
{"g":"B","x":397,"y":338},{"g":"B","x":259,"y":513},
{"g":"C","x":204,"y":673},{"g":"C","x":232,"y":560},{"g":"C","x":238,"y":567},{"g":"C","x":227,"y":574},{"g":"C","x":233,"y":581},{"g":"C","x":228,"y":587},{"g":"C","x":196,"y":743},{"g":"C","x":195,"y":760},{"g":"C","x":194,"y":788},{"g":"C","x":195,"y":812},{"g":"C","x":201,"y":867},
{"g":"F","x":1231,"y":1161},{"g":"F","x":1152,"y":1236},{"g":"F","x":1083,"y":1284},{"g":"F","x":1021,"y":1315},{"g":"F","x":802,"y":1365},{"g":"F","x":882,"y":1357},
{"g":"D","x":288,"y":1096},{"g":"D","x":315,"y":1134},{"g":"D","x":501,"y":1292},{"g":"D","x":708,"y":1360},
{"g":"E","x":1346,"y":957},{"g":"E","x":1339,"y":971},{"g":"E","x":1336,"y":985},{"g":"E","x":1306,"y":1050},{"g":"E","x":1289,"y":1083}
],
"guides":[
{"k":"v","x":784.1,"y":1510.5},{"k":"v","x":784.1,"y":47.9},
{"k":"h","x":47.9,"y":779.7},{"k":"h","x":1520.4,"y":779.7}
]
},
"encoding":{
"x":{"field":"x","type":"quantitative","scale":{"domain":[47.9,1520.4],"nice":false,"zero":false},"axis":null},
"y":{"field":"y","type":"quantitative","scale":{"domain":[47.9,1510.5],"nice":false,"zero":false,"reverse":true},"axis":null}
},
"layer":[
{"data":{"name":"paths"},
 "transform":[{"filter":{"field":"g","oneOf":["A","B","C","F"]}}],
 "mark":{"type":"line","strokeWidth":15.5,"strokeCap":"square","strokeJoin":"round"},
 "encoding":{
  "color":{"field":"g","type":"nominal","scale":{"domain":["A","B","C","D","E","F"],"range":["#CD853F","#FF6347","#FF8C00","#7B68EE","#1E90FF","#2E8B57"]},"legend":null},
  "detail":{"field":"i"},
  "order":{"value":null}}},
{"data":{"name":"goals"},
 "transform":[{"filter":{"field":"g","oneOf":["A","B","C","F"]}}],
 "mark":{"type":"point","shape":"M0,-0.5L0.5,-1L1,-0.5L0.5,0L1,0.5L0.5,1L0,0.5L-0.5,1L-1,0.5L-0.5,0L-1,-0.5L-0.5,-1Z","filled":true,"size":4500,"opacity":1,"strokeWidth":4,"strokeJoin":"round"},
 "encoding":{
  "color":{"field":"g","type":"nominal","scale":{"domain":["A","B","C","D","E","F"],"range":["#CD853F","#FF6347","#FF8C00","#7B68EE","#1E90FF","#2E8B57"]},"legend":null},
  "stroke":{"field":"g","type":"nominal","scale":{"domain":["A","B","C","D","E","F"],"range":["#CD853F","#FF6347","#FF8C00","#7B68EE","#1E90FF","#2E8B57"]},"legend":null}}},
{"data":{"name":"paths"},
 "transform":[{"filter":{"field":"g","oneOf":["D","E"]}}],
 "mark":{"type":"line","strokeWidth":15.5,"strokeCap":"square","strokeJoin":"round"},
 "encoding":{
  "color":{"field":"g","type":"nominal","scale":{"domain":["A","B","C","D","E","F"],"range":["#CD853F","#FF6347","#FF8C00","#7B68EE","#1E90FF","#2E8B57"]},"legend":null},
  "detail":{"field":"i"},
  "order":{"value":null}}},
{"data":{"name":"goals"},
 "transform":[{"filter":{"field":"g","oneOf":["D","E"]}}],
 "mark":{"type":"point","shape":"M0,-0.5L0.5,-1L1,-0.5L0.5,0L1,0.5L0.5,1L0,0.5L-0.5,1L-1,0.5L-0.5,0L-1,-0.5L-0.5,-1Z","filled":true,"size":4500,"opacity":1,"strokeWidth":4,"strokeJoin":"round"},
 "encoding":{
  "color":{"field":"g","type":"nominal","scale":{"domain":["A","B","C","D","E","F"],"range":["#CD853F","#FF6347","#FF8C00","#7B68EE","#1E90FF","#2E8B57"]},"legend":null},
  "stroke":{"field":"g","type":"nominal","scale":{"domain":["A","B","C","D","E","F"],"range":["#CD853F","#FF6347","#FF8C00","#7B68EE","#1E90FF","#2E8B57"]},"legend":null}}},
{"data":{"name":"guides"},
 "mark":{"type":"line","color":"#808080","strokeWidth":12,"strokeDash":[46,20],"strokeCap":"butt"},
 "encoding":{"detail":{"field":"k"},"order":{"value":null}}}
]
}
